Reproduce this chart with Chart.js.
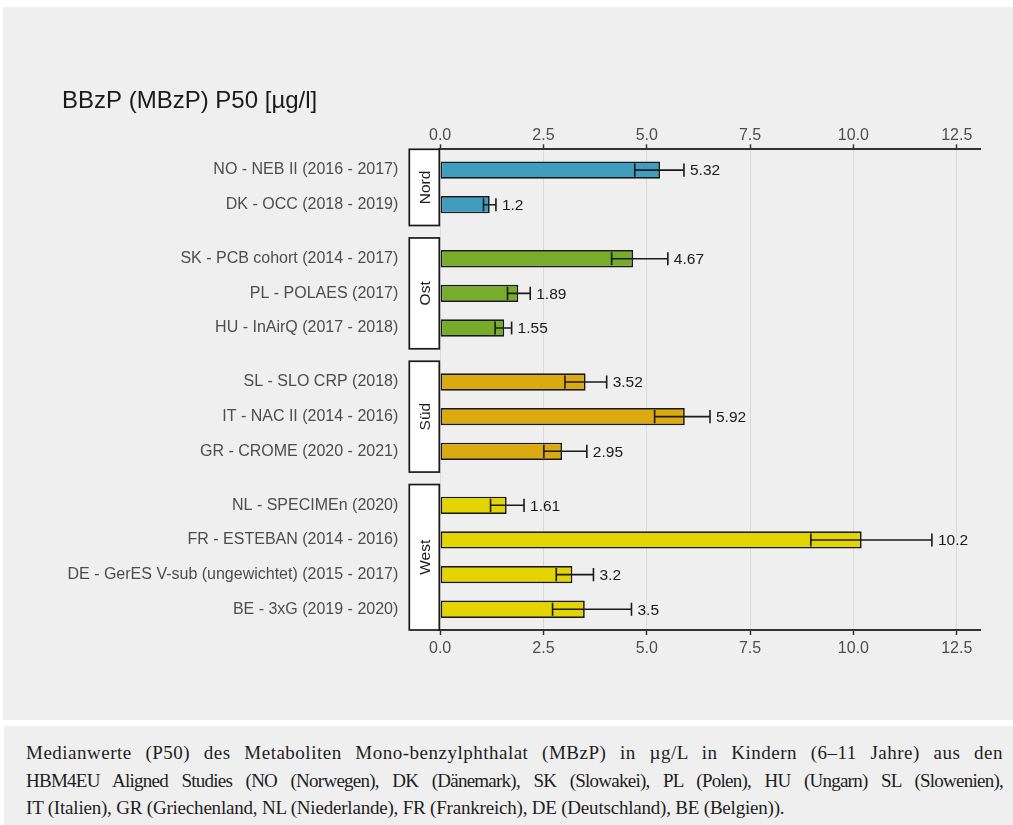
<!DOCTYPE html>
<html>
<head>
<meta charset="utf-8">
<script src="https://cdn.jsdelivr.net/npm/chart.js@4/dist/chart.umd.min.js"></script>
<style>
  html, body { margin: 0; padding: 0; background: #ffffff; width: 1013px; height: 825px; overflow: hidden; }
  #panel { position: absolute; left: 3px; top: 7px; width: 1010px; height: 713px; background: #efefef; }
  #chart { position: absolute; left: 0; top: 0; }
  #caption {
    position: absolute; left: 4px; top: 726px; width: 1009px; height: 99px;
    box-sizing: border-box; padding: 13px 10px 0 22px; background: #efefef;
    font-family: "Liberation Serif", "DejaVu Serif", serif; font-size: 19px; line-height: 27.5px; color: #1e1e1e;
  }
  #caption .j { text-align: justify; text-align-last: justify; }
  #caption .wide { letter-spacing: 0.5px; }
  #caption .tight { letter-spacing: -0.75px; }
  #caption .l { text-align: left; letter-spacing: -0.2px; }
</style>
</head>
<body>
<div id="panel"></div>
<canvas id="chart" width="1013" height="720"></canvas>
<div id="caption">
  <div class="j wide">Medianwerte (P50) des Metaboliten Mono-benzylphthalat (MBzP) in µg/L in Kindern (6–11 Jahre) aus den</div>
  <div class="j tight">HBM4EU Aligned Studies (NO (Norwegen), DK (Dänemark), SK (Slowakei), PL (Polen), HU (Ungarn) SL (Slowenien),</div>
  <div class="l">IT (Italien), GR (Griechenland, NL (Niederlande), FR (Frankreich), DE (Deutschland), BE (Belgien)).</div>
</div>
<script>
// Studies, top to bottom
const studies = [
  'NO - NEB II (2016 - 2017)',
  'DK - OCC (2018 - 2019)',
  'SK - PCB cohort (2014 - 2017)',
  'PL - POLAES (2017)',
  'HU - InAirQ (2017 - 2018)',
  'SL - SLO CRP (2018)',
  'IT - NAC II (2014 - 2016)',
  'GR - CROME (2020 - 2021)',
  'NL - SPECIMEn (2020)',
  'FR - ESTEBAN (2014 - 2016)',
  'DE - GerES V-sub (ungewichtet) (2015 - 2017)',
  'BE - 3xG (2019 - 2020)'
];
const regionOf = ['Nord', 'Nord', 'Ost', 'Ost', 'Ost', 'Süd', 'Süd', 'Süd', 'West', 'West', 'West', 'West'];
const regions = ['Nord', 'Ost', 'Süd', 'West'];

// P50 in µg/l with confidence interval bounds
const p50   = [5.32, 1.2, 4.67, 1.89, 1.55, 3.52, 5.92, 2.95, 1.61, 10.2, 3.2, 3.5];
const lower = [4.71, 1.05, 4.15, 1.63, 1.33, 3.02, 5.19, 2.51, 1.22, 8.97, 2.81, 2.72];
const upper = [5.90, 1.35, 5.51, 2.18, 1.73, 4.03, 6.53, 3.55, 2.03, 11.90, 3.71, 4.63];

const xTicks = [0, 2.5, 5, 7.5, 10, 12.5];

const regionColors = { 'Nord': '#3f9ebd', 'Ost': '#77ad2a', 'Süd': '#dbaa0e', 'West': '#e4d400' };

// Row positions on the y scale: one unit per study, panel padding 0.6, gap between regions
const PAD = 0.6, GAP = 0.36;
const rowPos = [];
{
  let p = 0;
  regionOf.forEach((r, i) => {
    if (i > 0 && r !== regionOf[i - 1]) p += PAD + GAP + PAD;
    else if (i > 0) p += 1;
    rowPos.push(p);
  });
}
const yMin = -PAD, yMax = rowPos[rowPos.length - 1] + PAD;

const FONT = '"Liberation Sans", Arial, sans-serif';
const INK = '#1a1a1a';

const stripPlugin = {
  id: 'regionStrips',
  afterDraw(chart) {
    const { ctx, chartArea, scales } = chart;
    const y = scales.y;
    ctx.save();
    regions.forEach(reg => {
      const idx = regionOf.map((r, i) => r === reg ? i : -1).filter(i => i >= 0);
      const top = y.getPixelForValue(rowPos[idx[0]] - PAD);
      const bot = y.getPixelForValue(rowPos[idx[idx.length - 1]] + PAD);
      const right = chartArea.left, left = right - 30;
      ctx.fillStyle = '#ffffff';
      ctx.fillRect(left, top, right - left, bot - top);
      ctx.strokeStyle = INK;
      ctx.lineWidth = 1.7;
      ctx.strokeRect(left, top, right - left, bot - top);
      ctx.translate((left + right) / 2, (top + bot) / 2);
      ctx.rotate(-Math.PI / 2);
      ctx.fillStyle = INK;
      ctx.font = '15.5px ' + FONT;
      ctx.textAlign = 'center';
      ctx.textBaseline = 'middle';
      ctx.fillText(reg, 0, 1);
      ctx.setTransform(1, 0, 0, 1, 0, 0);
    });
    ctx.restore();
  }
};

const errorPlugin = {
  id: 'errorBars',
  afterDatasetsDraw(chart) {
    const { ctx, scales } = chart;
    const x = scales.x, y = scales.y;
    const half = Math.abs(y.getPixelForValue(0.19) - y.getPixelForValue(0));
    ctx.save();
    ctx.strokeStyle = INK;
    ctx.lineWidth = 1.6;
    ctx.fillStyle = INK;
    ctx.font = '15.5px ' + FONT;
    ctx.textAlign = 'left';
    ctx.textBaseline = 'middle';
    p50.forEach((v, i) => {
      const py = y.getPixelForValue(rowPos[i]);
      const xl = x.getPixelForValue(lower[i]);
      const xu = x.getPixelForValue(upper[i]);
      ctx.beginPath();
      ctx.moveTo(xl, py); ctx.lineTo(xu, py);
      ctx.moveTo(xl, py - half); ctx.lineTo(xl, py + half);
      ctx.moveTo(xu, py - half); ctx.lineTo(xu, py + half);
      ctx.stroke();
      ctx.fillText(String(v), xu + 6, py + 1);
    });
    ctx.restore();
  }
};

const setXTicks = scale => { scale.ticks = xTicks.map(v => ({ value: v })); };

new Chart(document.getElementById('chart'), {
  type: 'bar',
  data: {
    datasets: [{
      data: p50.map((v, i) => ({ x: v, y: rowPos[i] })),
      backgroundColor: regionOf.map(r => regionColors[r]),
      borderColor: INK,
      borderWidth: 1.7,
      borderSkipped: false,
      categoryPercentage: 1,
      barPercentage: 0.5
    }]
  },
  options: {
    indexAxis: 'y',
    responsive: false,
    animation: false,
    layout: { padding: { left: 62, right: 32.3, top: 0, bottom: 0 } },
    plugins: {
      legend: { display: false },
      tooltip: { enabled: false },
      title: {
        display: true,
        text: 'BBzP (MBzP) P50 [µg/l]',
        align: 'start',
        color: INK,
        font: { family: FONT, size: 24, weight: 'normal', lineHeight: 1.2 },
        padding: { top: 86.5, bottom: 0 }
      }
    },
    scales: {
      y: {
        type: 'linear',
        reverse: true,
        offset: false,
        min: yMin,
        max: yMax,
        afterBuildTicks: s => { s.ticks = rowPos.map(v => ({ value: v })); },
        afterFit: s => { s.width = 377.3; },
        grid: { display: false, drawTicks: false, tickLength: 0, offset: false },
        border: { display: false },
        ticks: {
          padding: 41,
          color: '#4d4d4d',
          font: { family: FONT, size: 16 },
          callback: (v, i) => studies[i]
        }
      },
      x: {
        type: 'linear',
        position: 'bottom',
        min: -0.02,
        max: 13.08,
        afterBuildTicks: setXTicks,
        afterFit: s => { s.height = 90; },
        grid: { color: '#dadada', lineWidth: 1, drawTicks: true, tickLength: 5, tickColor: '#333', tickWidth: 1.5 },
        border: { color: '#333', width: 2 },
        ticks: { padding: 3.5, color: '#4d4d4d', font: { family: FONT, size: 16 }, callback: v => v.toFixed(1), maxRotation: 0 }
      },
      x2: {
        type: 'linear',
        position: 'top',
        axis: 'x',
        min: -0.02,
        max: 13.08,
        afterBuildTicks: setXTicks,
        afterFit: s => { s.height = 34; },
        grid: { drawOnChartArea: false, drawTicks: true, tickLength: 5, tickColor: '#333', tickWidth: 1.5 },
        border: { color: '#333', width: 2 },
        ticks: { padding: -1, color: '#4d4d4d', font: { family: FONT, size: 16 }, callback: v => v.toFixed(1), maxRotation: 0 }
      }
    }
  },
  plugins: [errorPlugin, stripPlugin]
});
</script>
</body>
</html>
